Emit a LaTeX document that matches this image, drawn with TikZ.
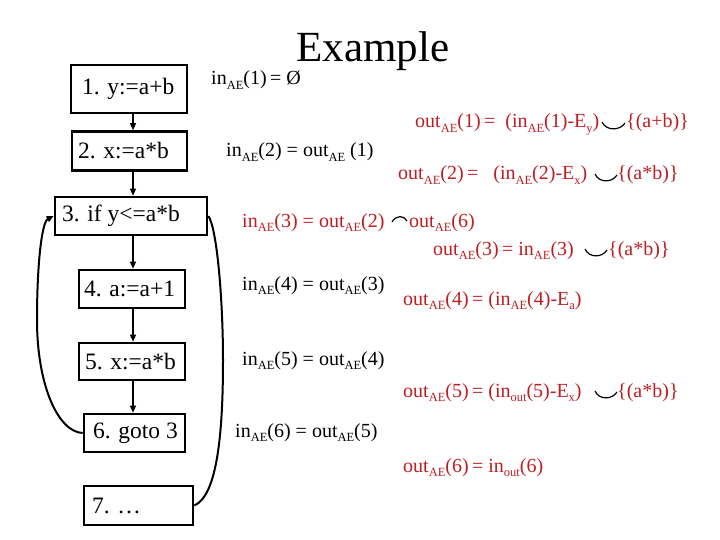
\documentclass[tikz,border=0pt]{standalone}
\usepackage{fontspec}
\setmainfont{Liberation Serif}
\usetikzlibrary{arrows.meta}
\definecolor{rd}{RGB}{190,30,35}
\newcommand\sbs[1]{\raisebox{-4.5pt}{\fontsize{12.5}{12.5}\selectfont #1}}
\newcommand\bxt[2]{\makebox[#1][l]{#2}}
\begin{document}
\begin{tikzpicture}[x=1pt,y=-1pt,
  box/.style={draw, line width=2.6pt, fill=white, inner sep=0pt, font=\fontsize{23.5}{24}\selectfont},
  eq/.style={anchor=base west, inner sep=0pt, font=\fontsize{20}{24}\selectfont},
  eqr/.style={eq, text=rd},
  flow/.style={-{Triangle[length=7pt,width=6pt]}, line width=1.3pt},
  loopline/.style={line width=2pt},
  setop/.style={line width=1.2pt}]
\useasboundingbox (0,0) rectangle (720,540);
% title
\node[anchor=base, inner sep=0pt, font=\fontsize{43}{48}\selectfont] (title) at (373,62) {Example};
% boxes
\node[box, minimum width=116pt, minimum height=48pt] (b1) at (129,89) {\bxt{94pt}{1. y:=a+b}};
\node[box, minimum width=115pt, minimum height=39pt] (b2) at (129.5,151) {\bxt{103pt}{2. x:=a*b}};
\node[box, minimum width=152pt, minimum height=38pt] (b3) at (131,216) {\bxt{138pt}{3. if y<=a*b}};
\node[box, minimum width=106pt, minimum height=38pt] (b4) at (132,289) {\bxt{96pt}{4. a:=a+1}};
\node[box, minimum width=106pt, minimum height=37pt] (b5) at (132,361.5) {\bxt{94pt}{5. x:=a*b}};
\node[box, minimum width=101pt, minimum height=38pt] (b6) at (134.5,433) {\bxt{83pt}{6. goto 3}};
\node[box, minimum width=109pt, minimum height=39pt] (b7) at (138.5,505.5) {\bxt{93pt}{7. …}};
\coordinate (ax) at (133,0);
\draw[flow] (b1.south -| ax) -- (b2.north -| ax);
\draw[flow] (b2.south -| ax) -- (b3.north -| ax);
\draw[flow] (b3.south -| ax) -- (b4.north -| ax);
\draw[flow] (b4.south -| ax) -- (b5.north -| ax);
\draw[flow] (b5.south -| ax) -- (b6.north -| ax);
% loop back 6 -> 3
\draw[loopline, -{Triangle[length=7pt,width=6pt]}] (b6.west) .. controls (58,432) and (37,385) .. (37,320)
   .. controls (37,262) and (42,222) .. (b3.west);
% exit 3 -> 7
\draw[loopline] (b3.east) .. controls (217,228) and (223,300) .. (223,360)
   .. controls (223,440) and (216,496) .. (b7.east);
% equations
\node[eq] (i1) at (211,85) {in\sbs{AE}(1)\,= Ø};
\node[eqr] (o1a) at (415,128) {out\sbs{AE}(1)\,=\ \ (in\sbs{AE}(1)-E\sbs{y})};
\node[eqr] (o1b) at (626,128) {\{(a+b)\}};
\draw[setop] (602,122) .. controls (606,131) and (620,131) .. (625,123);
\node[eq] (i2) at (226,157) {in\sbs{AE}(2) = out\sbs{AE} (1)};
\node[eqr] (o2a) at (398,180) {out\sbs{AE}(2)\,=\ \ \ (in\sbs{AE}(2)-E\sbs{x})};
\node[eqr] (o2b) at (617,180) {\{(a*b)\}};
\draw[setop] (595,174) .. controls (599,183) and (612,183) .. (617,175);
\node[eqr] (i3a) at (242,227) {in\sbs{AE}(3) = out\sbs{AE}(2)};
\node[eqr] (i3b) at (409,227) {out\sbs{AE}(6)};
\draw[setop] (392,222) .. controls (396,215) and (404,215) .. (407,221);
\node[eqr] (o3a) at (433,255) {out\sbs{AE}(3)\,= in\sbs{AE}(3)};
\node[eqr] (o3b) at (608,255) {\{(a*b)\}};
\draw[setop] (585,249) .. controls (589,258) and (602,258) .. (607,250);
\node[eq] (i4) at (242,290) {in\sbs{AE}(4) = out\sbs{AE}(3)};
\node[eqr] (o4) at (403,305) {out\sbs{AE}(4)\,= (in\sbs{AE}(4)-E\sbs{a})};
\node[eq] (i5) at (242,365) {in\sbs{AE}(5) = out\sbs{AE}(4)};
\node[eqr] (o5a) at (403,397) {out\sbs{AE}(5)\,= (in\sbs{out}(5)-E\sbs{x})};
\node[eqr] (o5b) at (617,397) {\{(a*b)\}};
\draw[setop] (595,391) .. controls (599,400) and (612,400) .. (617,392);
\node[eq] (i6) at (235,437) {in\sbs{AE}(6) = out\sbs{AE}(5)};
\node[eqr] (o6) at (403,472) {out\sbs{AE}(6)\,= in\sbs{out}(6)};
\end{tikzpicture}
\end{document}
